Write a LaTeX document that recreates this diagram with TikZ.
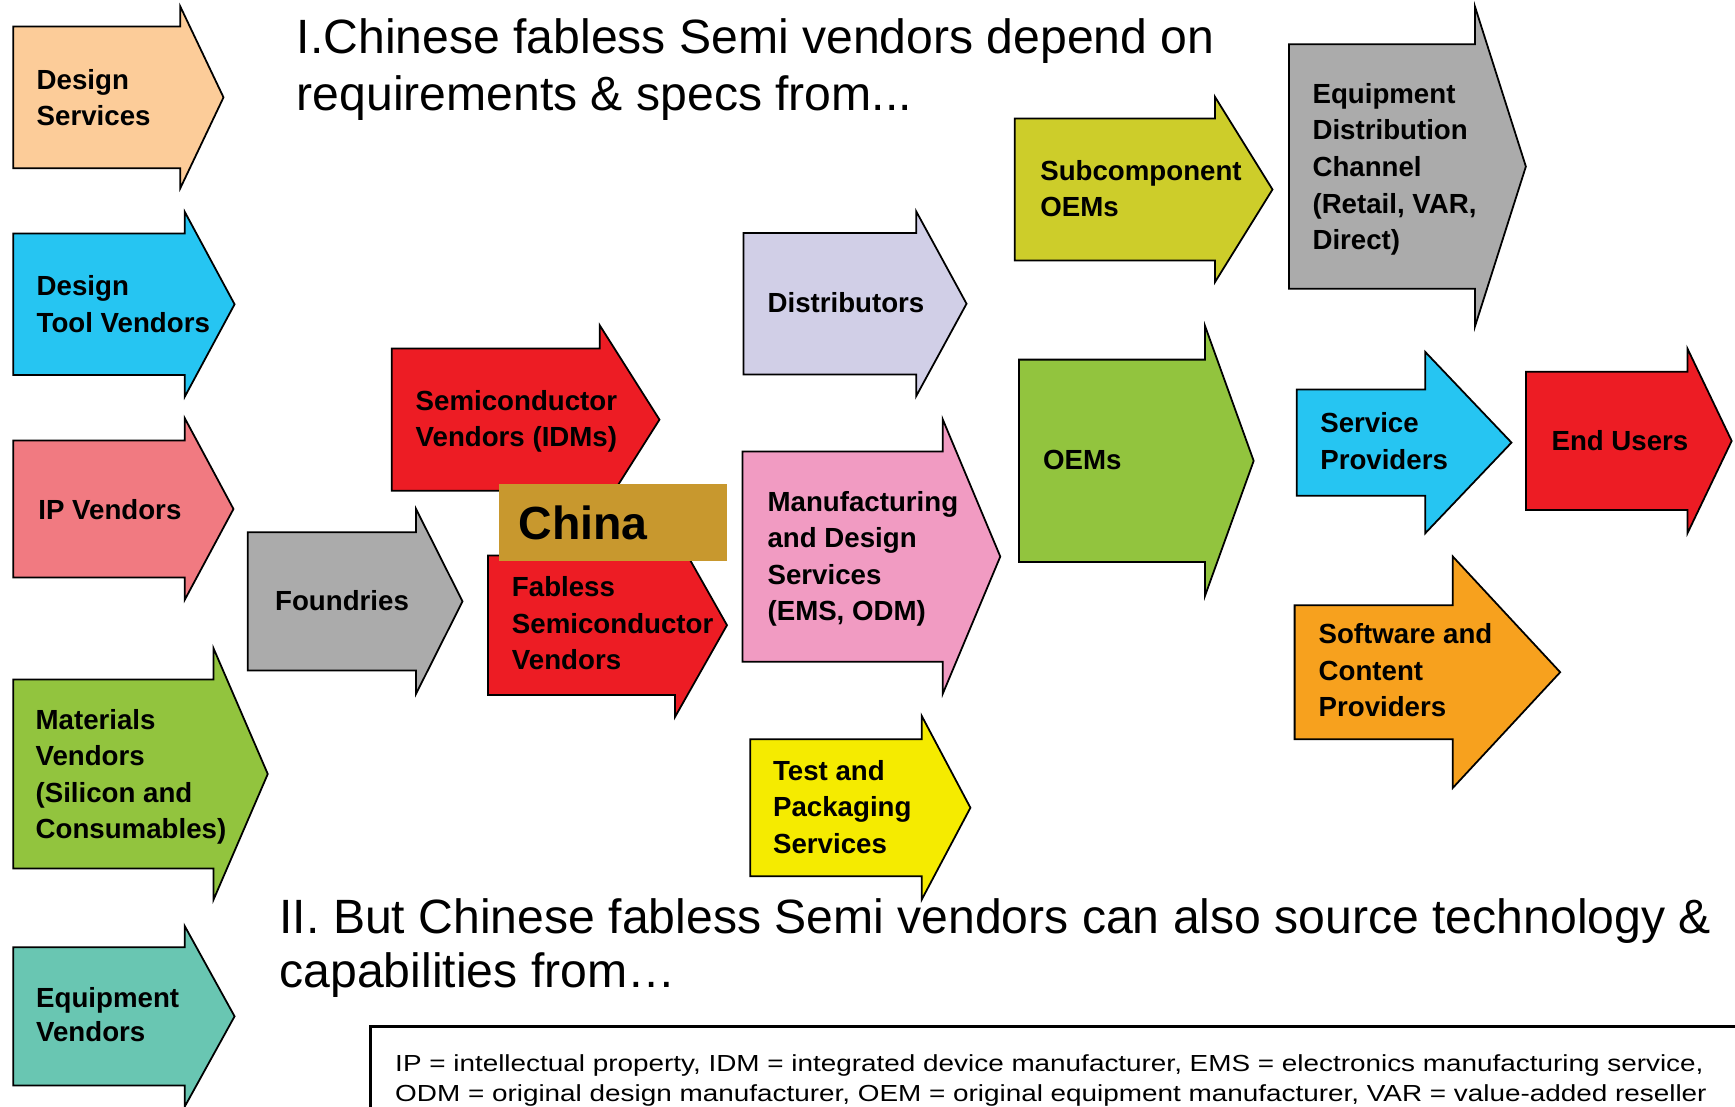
\documentclass[tikz,border=0pt]{standalone}
\usepackage{fontspec}
\setmainfont{Liberation Sans}
\newfontfamily\legendfont[FakeStretch=1.2]{Liberation Sans}

\definecolor{peach}{HTML}{FCCC99}
\definecolor{skyblue}{HTML}{26C5F2}
\definecolor{rosered}{HTML}{F17A81}
\definecolor{leaf}{HTML}{92C43E}
\definecolor{tealgreen}{HTML}{69C6B2}
\definecolor{midgray}{HTML}{ABABAB}
\definecolor{brightred}{HTML}{ED1C24}
\definecolor{chinagold}{HTML}{C8982E}
\definecolor{lavender}{HTML}{D1CFE7}
\definecolor{candypink}{HTML}{F19BC2}
\definecolor{lemon}{HTML}{F5EB00}
\definecolor{olivelime}{HTML}{CDCD2A}
\definecolor{amber}{HTML}{F7A11E}

% block arrow: #1 fill, #2 left x, #3 top y, #4 bottom y, #5 shaft end x,
% #6 head overhang, #7 tip x
\newcommand\chainarrow[7]{%
  \path[arrowbody, fill=#1] (#2,#3) -- (#5,#3) -- (#5,#3-#6)
    -- (#7,{(#3+#4)/2}) -- (#5,#4+#6) -- (#5,#4) -- (#2,#4) -- cycle;}
% label inside an arrow: #1 name, #2 x, #3 first baseline, #4 text
\newcommand\boxlabel[4]{%
  \node[lbl] (#1) at (#2,#3-23.1) {\strut #4};}

\begin{document}
\begin{tikzpicture}[x=1pt,y=-1pt,
  arrowbody/.style={draw=black, line width=1.6pt, line join=miter},
  lbl/.style={anchor=north west, inner sep=0pt, align=left,
    font=\bfseries\fontsize{25}{33}\selectfont},
  headline/.style={anchor=north west, inner sep=0pt, align=left}]

\clip (0,0) rectangle (1568,1000);
\fill[white] (0,0) rectangle (1568,1000);

% supplier column
\chainarrow{peach}{12}{24}{152}{163}{18}{202}
\boxlabel{ds}{33}{80.5}{Design\\Services}
\chainarrow{skyblue}{12}{211}{339}{167}{19.5}{212}
\boxlabel{dtv}{33}{267}{Design\\Tool Vendors}
\chainarrow{rosered}{12}{398}{522}{167}{20}{211}
\boxlabel{ipv}{34.5}{469.5}{IP Vendors}
\chainarrow{leaf}{12}{614}{785}{193}{28}{242}
\boxlabel{mat}{32}{659}{Materials\\Vendors\\(Silicon and\\Consumables)}
\chainarrow{tealgreen}{12}{856}{981}{167}{19}{212}
\node[lbl, font=\bfseries\fontsize{25}{31}\selectfont] (eqv) at (32.5,910-21.7) {\strut Equipment\\Vendors};

% foundries and semiconductor vendors
\chainarrow{midgray}{224}{481}{606}{376}{21}{418}
\boxlabel{fnd}{248.5}{551.5}{Foundries}
\chainarrow{brightred}{354}{315}{443.5}{542}{21}{596}
\boxlabel{idm}{375.5}{370.5}{Semiconductor\\Vendors (IDMs)}
\chainarrow{brightred}{441}{502}{628}{610}{20}{657}
\boxlabel{fab}{462.5}{539}{Fabless\\Semiconductor\\Vendors}
\fill[chinagold] (451,437.5) rectangle (657,507);
\node[anchor=base west, inner sep=0pt, font=\bfseries\fontsize{42}{50}\selectfont]
  (china) at (468.5,487.5) {China};

% distribution and manufacturing
\chainarrow{lavender}{672}{210.5}{338.5}{828}{19.5}{873.5}
\boxlabel{dist}{693.5}{282.5}{Distributors}
\chainarrow{candypink}{671}{408}{598}{852}{29}{904}
\boxlabel{mfg}{693.5}{462}{Manufacturing\\and Design\\Services\\(EMS, ODM)}
\chainarrow{lemon}{678}{668}{792}{833}{21}{877}
\boxlabel{tp}{698.5}{705}{Test and\\Packaging\\Services}

% OEMs
\chainarrow{olivelime}{917}{107}{235.5}{1098}{19.5}{1150}
\boxlabel{sub}{940}{162.6}{Subcomponent\\OEMs}
\chainarrow{leaf}{921}{325}{508}{1089}{30.5}{1133}
\boxlabel{oem}{942.5}{424}{OEMs}

% channel, providers and end users
\chainarrow{midgray}{1165}{40}{261}{1333}{34}{1379}
\boxlabel{edc}{1186}{93.3}{Equipment\\Distribution\\Channel\\(Retail, VAR,\\Direct)}
\chainarrow{skyblue}{1172}{352}{448}{1288}{34}{1366}
\boxlabel{sp}{1193}{391}{Service\\Providers}
\chainarrow{brightred}{1379}{336}{461}{1525}{21}{1565}
\boxlabel{eu}{1402}{406.7}{End Users}
\chainarrow{amber}{1170}{547}{668}{1313}{44}{1410}
\boxlabel{scp}{1191.5}{581.4}{Software and\\Content\\Providers}

% headings
\node[headline, font=\fontsize{43.5}{52}\selectfont] (partone) at (268,48-36.4)
  {\strut I.Chinese fabless Semi vendors depend on\\requirements \& specs from...};
\node[headline, font=\fontsize{43.5}{49}\selectfont] (parttwo) at (252.5,843.5-34.3)
  {\strut II. But Chinese fabless Semi vendors can also source technology \&\\capabilities from…};

% abbreviations box
\draw[line width=2.2pt] (335,927.5) rectangle (1640,1060);
\node[headline, font=\legendfont\fontsize{21}{27}\selectfont] (abbrev) at (357,968.5-18.9)
  {\strut IP = intellectual property, IDM = integrated device manufacturer, EMS = electronics manufacturing service,\\
   ODM = original design manufacturer, OEM = original equipment manufacturer, VAR = value-added reseller};
\end{tikzpicture}
\end{document}
